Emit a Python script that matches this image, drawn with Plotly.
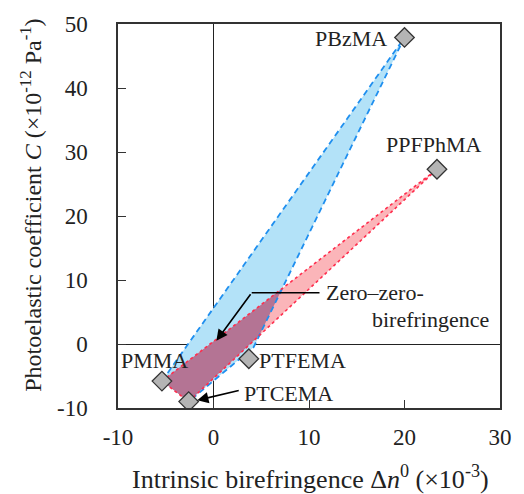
import plotly.graph_objects as go

# Data
names = ["PMMA", "PBzMA", "PPFPhMA", "PTFEMA", "PTCEMA"]
dn0 = [-5.4, 20.0, 23.4, 3.7, -2.6]
C = [-5.8, 47.9, 27.3, -2.3, -9.0]

# Region outlines (by polymer / vertex)
blue_x = [-5.4, 20.0, 4.2, -2.6]
blue_y = [-5.8, 47.9, -0.5, -9.0]
red_x = [-5.4, 23.4, -2.6]
red_y = [-5.8, 27.3, -9.0]

x_ticks = [-10, 0, 10, 20, 30]
x_ticktext = ["-10", "0", "10", "20", "30"]
y_ticks = [-10, 0, 10, 20, 30, 40, 50]
y_ticktext = ["-10", "0", "10", "20", "30", "40", "50"]

FONT = "Liberation Serif"


def clip(subject, clipper):
    def inside(p, a, b):
        return (b[0] - a[0]) * (p[1] - a[1]) - (b[1] - a[1]) * (p[0] - a[0]) <= 0

    def inter(p, q, a, b):
        x1, y1 = p; x2, y2 = q; x3, y3 = a; x4, y4 = b
        d = (x1 - x2) * (y3 - y4) - (y1 - y2) * (x3 - x4)
        t = ((x1 - x3) * (y3 - y4) - (y1 - y3) * (x3 - x4)) / d
        return (x1 + t * (x2 - x1), y1 + t * (y2 - y1))

    out = list(subject)
    n = len(clipper)
    for i in range(n):
        a, b = clipper[i], clipper[(i + 1) % n]
        inp = out
        out = []
        if not inp:
            break
        s = inp[-1]
        for e in inp:
            if inside(e, a, b):
                if not inside(s, a, b):
                    out.append(inter(s, e, a, b))
                out.append(e)
            elif inside(s, a, b):
                out.append(inter(s, e, a, b))
            s = e
    return out


blue_poly = list(zip(blue_x, blue_y))
red_poly = list(zip(red_x, red_y))
ov = clip(red_poly, blue_poly)
ov_x = [p[0] for p in ov]
ov_y = [p[1] for p in ov]

fig = go.Figure()
fig.add_trace(go.Scatter(x=blue_x, y=blue_y, fill="toself", fillcolor="#b3e2f8",
                         line=dict(width=0), mode="lines", hoverinfo="skip"))
fig.add_trace(go.Scatter(x=red_x, y=red_y, fill="toself", fillcolor="#fbb5b9",
                         line=dict(width=0), mode="lines", hoverinfo="skip"))
fig.add_trace(go.Scatter(x=ov_x, y=ov_y, fill="toself", fillcolor="#b47494",
                         line=dict(width=0), mode="lines", hoverinfo="skip"))
# blue dashed outline (excluding bottom edge)
fig.add_trace(go.Scatter(x=blue_x, y=blue_y, mode="lines",
                         line=dict(color="#1f8fef", width=1.8, dash="6px,4px")))
# red dotted outline
fig.add_trace(go.Scatter(x=red_x + [red_x[0]], y=red_y + [red_y[0]], mode="lines",
                         line=dict(color="#ff2d4d", width=1.6, dash="dot")))
# markers
fig.add_trace(go.Scatter(x=dn0, y=C, mode="markers",
                         marker=dict(symbol="diamond", size=15, color="#b4b4b4",
                                     line=dict(color="#333333", width=1.3))))

# labels
lab_pos = {"PMMA": (-6.2, -2.6), "PBzMA": (14.4, 47.7), "PPFPhMA": (23.1, 31.1),
           "PTFEMA": (9.3, -2.6), "PTCEMA": (7.9, -7.7)}
for nm in names:
    x, y = lab_pos[nm]
    fig.add_annotation(x=x, y=y, text=nm, showarrow=False,
                       font=dict(family=FONT, size=22, color="#222"))

fig.add_annotation(x=11.6, y=8.0, text="Zero\u2013zero-", showarrow=False, xanchor="left",
                   font=dict(family=FONT, size=22, color="#222"))
fig.add_annotation(x=22.7, y=3.9, text="birefringence", showarrow=False, xanchor="center",
                   font=dict(family=FONT, size=22, color="#222"))

# zero-zero arrow (bent)
fig.add_shape(type="line", x0=11.1, y0=8.0, x1=4.0, y1=8.0,
              line=dict(color="black", width=1.6))
fig.add_annotation(x=0.3, y=0.5, ax=4.0, ay=8.0, axref="x", ayref="y", text="",
                   showarrow=True, arrowhead=2, arrowsize=1.4, arrowwidth=1.6,
                   arrowcolor="black")
# PTCEMA arrow
fig.add_annotation(x=-1.7, y=-8.8, ax=2.8, ay=-7.2, axref="x", ayref="y", text="",
                   showarrow=True, arrowhead=2, arrowsize=1.4, arrowwidth=1.6,
                   arrowcolor="black")

# axis titles
fig.add_annotation(xref="paper", yref="paper", x=0.505, y=-0.182, yanchor="middle",
                   text="Intrinsic birefringence \u0394<i>n</i><sup>0</sup> (\u00d710<sup>-3</sup>)",
                   showarrow=False, font=dict(family=FONT, size=26, color="#222"))
fig.add_annotation(xref="paper", yref="paper", x=-0.230, y=0.527, xanchor="center",
                   yanchor="middle", textangle=-90,
                   text="Photoelastic coefficient <i>C</i> (\u00d710<sup>-12</sup> Pa<sup>-1</sup>)",
                   showarrow=False, font=dict(family=FONT, size=24, color="#222"))

axis_common = dict(showgrid=False, zeroline=True, zerolinecolor="#222", zerolinewidth=1.2,
                   showline=True, linecolor="#333", linewidth=1.5, mirror=True,
                   ticks="inside", ticklen=8, tickwidth=1.3, tickcolor="#333",
                   tickfont=dict(family=FONT, size=23, color="#222"))

fig.update_xaxes(range=[-10, 30], tickvals=x_ticks, ticktext=x_ticktext, ticklabelstandoff=8,
                 **axis_common)
fig.update_yaxes(range=[-10, 50], tickvals=y_ticks, ticktext=y_ticktext, ticklabelstandoff=24,
                 **axis_common)

fig.update_layout(width=524, height=494, margin=dict(l=118, r=15, t=21, b=86),
                  plot_bgcolor="white", paper_bgcolor="white", showlegend=False)

fig.write_html("out.html")
